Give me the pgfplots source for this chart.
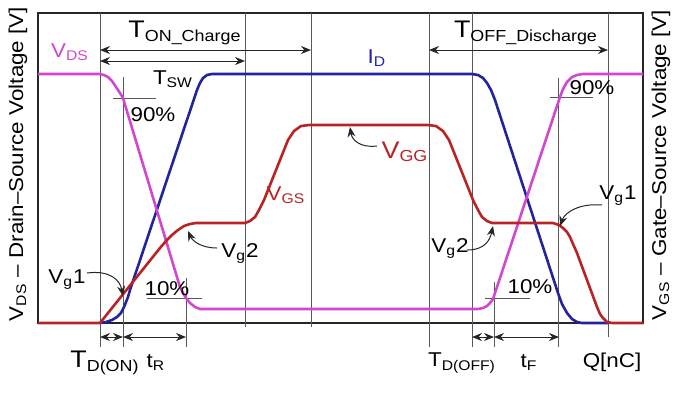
\documentclass[border=0pt]{standalone}
\usepackage{fontspec}
\setmainfont{Liberation Sans}[FakeStretch=1.12]
\usepackage{pgfplots}
\pgfplotsset{compat=1.18}
\usetikzlibrary{arrows.meta}
\definecolor{vds}{RGB}{210,70,210}
\definecolor{idc}{RGB}{35,35,160}
\definecolor{vgs}{RGB}{185,35,35}
\definecolor{txt}{RGB}{45,45,45}
\newcommand{\sub}[1]{\textsubscript{#1}}
\begin{document}
\begin{tikzpicture}
\begin{axis}[scale only axis, width=302.5pt, height=155pt,
  xmin=38, xmax=643, ymin=13, ymax=323, y dir=reverse, clip=false,
  axis line style={line width=0.9pt, black!85}, ticks=none,
  every node/.style={font=\fontsize{11}{13}\selectfont, text=txt, inner sep=0pt}]
% bounding box
\path (axis cs:0,0) rectangle (axis cs:680,393);
% guide lines
\begin{scope}[black!65, line width=0.45pt]
\draw (axis cs:100,13) -- (axis cs:100,347);
\draw (axis cs:123,77) -- (axis cs:123,347);
\draw (axis cs:186,278) -- (axis cs:186,347);
\draw (axis cs:245,13) -- (axis cs:245,327);
\draw (axis cs:311,13) -- (axis cs:311,327);
\draw (axis cs:429,13) -- (axis cs:429,347);
\draw (axis cs:472,13) -- (axis cs:472,347);
\draw (axis cs:494,282) -- (axis cs:494,347);
\draw (axis cs:558,78) -- (axis cs:558,347);
\draw (axis cs:608,13) -- (axis cs:608,337);
% percent markers
\draw (axis cs:113,98) -- (axis cs:156,98);
\draw (axis cs:550,97) -- (axis cs:593,97);
\draw (axis cs:147,298) -- (axis cs:202,298);
\draw (axis cs:485,298) -- (axis cs:530,298);
\end{scope}
% curves
\addplot[idc, line width=1.3pt, line join=round] coordinates {(100,323)(106,322)(112,320)(117,317)(121,313)(124,307)(128,297)(130,290)(197,90)(200,83)(203,78)(207,75)(212,74)(472,74)(478,75)(483,78)(487,83)(491,90)(495,100)(558,293)(562,304)(567,313)(572,319)(577,322)(582,323)(608,323)};
\addplot[vds, line width=1.3pt, line join=round] coordinates {(38,74)(100,74)(104,75)(108,77)(112,81)(116,87)(120,93)(123,98)(180,287)(183,293)(186,298)(190,303)(195,307)(200,309)(205,309)(472,309)(478,309)(483,308)(487,306)(490,303)(493,299)(560,97)(563,89)(567,82)(572,77)(577,75)(583,74)(643,74)};
\addplot[vgs, line width=1.3pt, line join=round] coordinates {(38,323)(100,323)(160,248)(166,241)(172,235)(178,230)(184,226)(190,224)(196,223)(245,223)(250,221)(255,217)(259,210)(264,200)(284,150)(288,140)(294,131)(301,126)(309,125)(428,125)(436,126)(443,131)(449,140)(453,150)(473,200)(478,210)(482,217)(487,221)(492,223)(553,223)(559,225)(563,228)(567,232)(570,237)(577,253)(597,307)(600,314)(603,318)(607,322)(612,323)(643,323)};
% arrows
\begin{scope}[black!85, line width=0.5pt, >={Stealth[length=5pt,width=4pt]}]
\draw[<->] (axis cs:100,50) -- (axis cs:311,50);
\draw[<->] (axis cs:100,61) -- (axis cs:245,61);
\draw[<->] (axis cs:429,50) -- (axis cs:608,50);
\draw[<->] (axis cs:100,337) -- (axis cs:123,337);
\draw[<->] (axis cs:123,337) -- (axis cs:186,337);
\draw[<->] (axis cs:472,337) -- (axis cs:494,337);
\draw[<->] (axis cs:494,337) -- (axis cs:559,337);
\draw[->] (axis cs:377,146) .. controls (axis cs:360,148) and (axis cs:352,140) .. (axis cs:350,127);
\draw[->] (axis cs:602,205) .. controls (axis cs:580,203) and (axis cs:565,212) .. (axis cs:560,226);
\draw[->] (axis cs:467,250) .. controls (axis cs:485,250) and (axis cs:490,240) .. (axis cs:493,226);
\draw[->] (axis cs:217,248) .. controls (axis cs:200,248) and (axis cs:192,240) .. (axis cs:188,231);
\draw[->] (axis cs:87,273) .. controls (axis cs:110,270) and (axis cs:120,280) .. (axis cs:123,296);
\end{scope}
% labels
\node[text=vds] at (axis cs:70,52) {V\sub{DS}};
\node[font=\fontsize{12}{14}\selectfont] at (axis cs:185,33) {T\sub{ON\_Charge}};
\node at (axis cs:173,79) {T\sub{SW}};
\node at (axis cs:153,115) {90\%};
\node[text=idc] at (axis cs:377,58) {I\sub{D}};
\node[font=\fontsize{12}{14}\selectfont] at (axis cs:526,33) {T\sub{OFF\_Discharge}};
\node[text=vgs, font=\fontsize{12}{14}\selectfont] at (axis cs:405,152) {V\sub{GG}};
\node[text=vgs] at (axis cs:286,195) {V\sub{GS}};
\node at (axis cs:592,88) {90\%};
\node[font=\fontsize{10}{12}\selectfont] at (axis cs:618,196) {V\sub{g}1};
\node[font=\fontsize{10}{12}\selectfont] at (axis cs:450,248) {V\sub{g}2};
\node at (axis cs:530,287) {10\%};
\node[font=\fontsize{10}{12}\selectfont] at (axis cs:240,253) {V\sub{g}2};
\node[font=\fontsize{10}{12}\selectfont] at (axis cs:67,280) {V\sub{g}1};
\node[font=\fontsize{10}{12}\selectfont] at (axis cs:167,289) {10\%};
\node[font=\fontsize{12}{14}\selectfont] at (axis cs:105,363) {T\sub{D(ON)}};
\node at (axis cs:156,363) {t\sub{R}};
\node at (axis cs:462,363) {T\sub{D(OFF)}};
\node at (axis cs:529,363) {t\sub{F}};
\node at (axis cs:612,362) {Q[nC]};
\node[rotate=90, font=\fontsize{10}{12}\selectfont] at (axis cs:18,164) {V\sub{DS} – Drain–Source Voltage [V]};
\node[rotate=90, font=\fontsize{10}{12}\selectfont] at (axis cs:661,165) {V\sub{GS} – Gate–Source Voltage [V]};
\end{axis}
\end{tikzpicture}
\end{document}
